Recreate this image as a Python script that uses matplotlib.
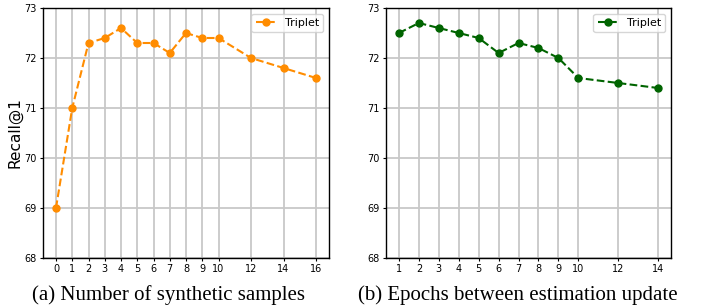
import matplotlib.pyplot as plt

# 数据
x_a = [0, 1, 2, 3, 4, 5, 6, 7, 8, 9, 10, 12, 14, 16]
y_a = [69.0, 71.0, 72.3, 72.4, 72.6, 72.3, 72.3, 72.1, 72.5, 72.4, 72.4, 72.0, 71.8, 71.6]

x_b = [1, 2, 3, 4, 5, 6, 7, 8, 9, 10, 12, 14]
y_b = [72.5, 72.7, 72.6, 72.5, 72.4, 72.1, 72.3, 72.2, 72.0, 71.6, 71.5, 71.4]

yticks = [68, 69, 70, 71, 72, 73]

W, H = 707, 308
fig = plt.figure(figsize=(W / 100, H / 100), dpi=100)

ax1 = fig.add_axes([43 / W, 50 / H, 286 / W, 250 / H])
ax2 = fig.add_axes([386 / W, 50 / H, 285 / W, 250 / H])

panels = [
    (ax1, x_a, y_a, 'darkorange', (-0.8, 16.8), '(a) Number of synthetic samples', 169),
    (ax2, x_b, y_b, 'darkgreen', (0.35, 14.65), '(b) Epochs between estimation update', 518),
]

for ax, xs, ys, color, xlim, caption, cx in panels:
    ax.plot(xs, ys, linestyle='--', marker='o', color=color,
            linewidth=1.5, markersize=5, label='Triplet')
    ax.set_xlim(*xlim)
    ax.set_ylim(68, 73)
    ax.set_xticks(xs)
    ax.set_yticks(yticks)
    ax.tick_params(labelsize=7, length=2.5, pad=2)
    ax.grid(True, color='#c8c8c8', linewidth=1.3)
    ax.set_axisbelow(True)
    ax.legend(loc='upper right', fontsize=8, handlelength=1.8)
    for s in ax.spines.values():
        s.set_linewidth(1.0)
    # 标题放在图下方
    fig.text(cx / W, 1 - 295 / H, caption, ha='center', va='center',
             fontsize=15, family='Liberation Serif')

ax1.set_ylabel('Recall@1', fontsize=11, labelpad=1)

plt.savefig('out.png', dpi=100)
